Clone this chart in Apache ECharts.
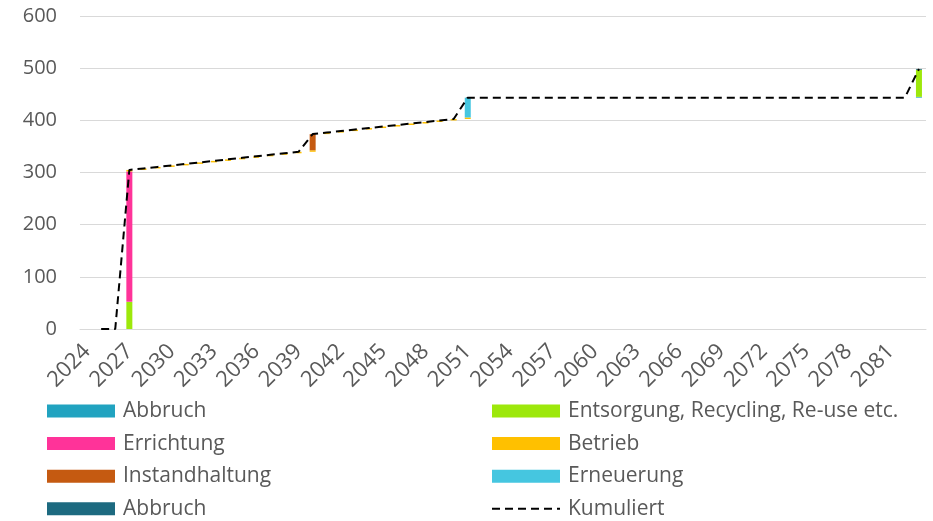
<!DOCTYPE html>
<html>
<head>
<meta charset="utf-8">
<script src="https://cdn.jsdelivr.net/npm/echarts@6/dist/echarts.min.js"></script>
<style>
  html, body { margin: 0; padding: 0; background: #fff; }
  #chart { width: 933px; height: 521px; }
</style>
</head>
<body>
<div id="chart"></div>
<script>
// Categories (years)
const years = ['2024','2025','2026','2027','2028','2029','2030','2031','2032','2033',
  '2034','2035','2036','2037','2038','2039','2040','2041','2042','2043',
  '2044','2045','2046','2047','2048','2049','2050','2051','2052','2053',
  '2054','2055','2056','2057','2058','2059','2060','2061','2062','2063',
  '2064','2065','2066','2067','2068','2069','2070','2071','2072','2073',
  '2074','2075','2076','2077','2078','2079','2080','2081','2082','2083'];

// Series values as [year, value] pairs (years without a value are 0)
const abbruch1 = [['2083', 1.5]];
const entsorgung = [['2027', 52], ['2083', 52]];
const errichtung = [['2027', 250]];
const betrieb = [
  ['2027', 2.9], ['2028', 2.9], ['2029', 2.9], ['2030', 2.9], ['2031', 2.9],
  ['2032', 2.9], ['2033', 2.9], ['2034', 2.9], ['2035', 2.9], ['2036', 2.9],
  ['2037', 2.9], ['2038', 2.9], ['2039', 2.9], ['2040', 2.9], ['2041', 2.9],
  ['2042', 2.9], ['2043', 2.9], ['2044', 2.9], ['2045', 2.9], ['2046', 2.9],
  ['2047', 2.9], ['2048', 2.9], ['2049', 2.9], ['2050', 2.9], ['2051', 2.9]
];
const instandhaltung = [['2040', 31]];
const erneuerung = [['2051', 38]];
const abbruch2 = [['2083', 1.5]];
const cumulativeStartYear = '2025';

// Y axis ticks
const yMin = 0, yMax = 600, yStep = 100;

function full(pairs) {
  const arr = years.map(() => 0);
  pairs.forEach(([y, v]) => { arr[years.indexOf(y)] = v; });
  return arr;
}

const comps = [
  { name: 'Abbruch', color: '#21A3C0', data: full(abbruch1) },
  { name: 'Entsorgung, Recycling, Re-use etc.', color: '#9DE80B', data: full(entsorgung) },
  { name: 'Errichtung', color: '#FF3399', data: full(errichtung) },
  { name: 'Betrieb', color: '#FFC000', data: full(betrieb) },
  { name: 'Instandhaltung', color: '#C55A11', data: full(instandhaltung) },
  { name: 'Erneuerung', color: '#45C6E0', data: full(erneuerung) },
  { name: 'Abbruch ', color: '#1D6A80', data: full(abbruch2) }
];

const base = [];
const cum = [];
let run = 0;
years.forEach((y, i) => {
  base.push(run);
  comps.forEach(c => { run += c.data[i]; });
  cum.push(run);
});
const startIdx = years.indexOf(cumulativeStartYear);
const kumuliert = cum.map((v, i) => (i >= startIdx ? v : null));

const FONT = 'Open Sans';
const TXT = '#595959';

const series = [{
  name: '_base', type: 'bar', stack: 'w', data: base, barWidth: 6,
  itemStyle: { color: 'transparent' }, silent: true
}];
comps.forEach(c => series.push({
  name: c.name, type: 'bar', stack: 'w', data: c.data, barWidth: 6,
  itemStyle: { color: c.color }
}));
series.push({
  name: 'Kumuliert', type: 'line', data: kumuliert, symbol: 'none',
  itemStyle: { color: '#000' },
  lineStyle: { color: '#000', width: 2, type: [8, 5] }, z: 5
});

const legendCommon = {
  orient: 'vertical', top: 400, height: 130, padding: 0,
  itemWidth: 68, itemHeight: 13, itemGap: 10.6,
  textStyle: { fontFamily: FONT, fontSize: 21, color: TXT, lineHeight: 22, padding: [0, 0, 0, 3] },
  formatter: n => n.trim(), selectedMode: false
};

const option = {
  animation: false,
  grid: { left: 80, right: 7, top: 16, bottom: 192, containLabel: false },
  legend: [
    Object.assign({}, legendCommon, {
      left: 47,
      data: [
        { name: 'Abbruch', icon: 'rect' },
        { name: 'Errichtung', icon: 'rect' },
        { name: 'Instandhaltung', icon: 'rect' },
        { name: 'Abbruch ', icon: 'rect' }
      ]
    }),
    Object.assign({}, legendCommon, {
      left: 491,
      data: [
        { name: 'Entsorgung, Recycling, Re-use etc.', icon: 'rect' },
        { name: 'Betrieb', icon: 'rect' },
        { name: 'Erneuerung', icon: 'rect' },
        { name: 'Kumuliert', itemStyle: { opacity: 0 } }
      ]
    })
  ],
  xAxis: {
    type: 'category', data: years, boundaryGap: true,
    axisLine: { lineStyle: { color: '#D9D9D9', width: 1 } },
    axisTick: { show: false },
    axisLabel: {
      interval: 2, rotate: 45, margin: 19,
      fontFamily: FONT, fontSize: 22, color: TXT
    }
  },
  yAxis: {
    type: 'value', min: yMin, max: yMax, interval: yStep,
    axisLine: { show: false }, axisTick: { show: false },
    splitLine: { lineStyle: { color: '#D9D9D9', width: 1 } },
    axisLabel: { margin: 23, fontFamily: FONT, fontSize: 20, color: TXT }
  },
  series: series
};

const chart = echarts.init(document.getElementById('chart'));
chart.setOption(option);
</script>
</body>
</html>
